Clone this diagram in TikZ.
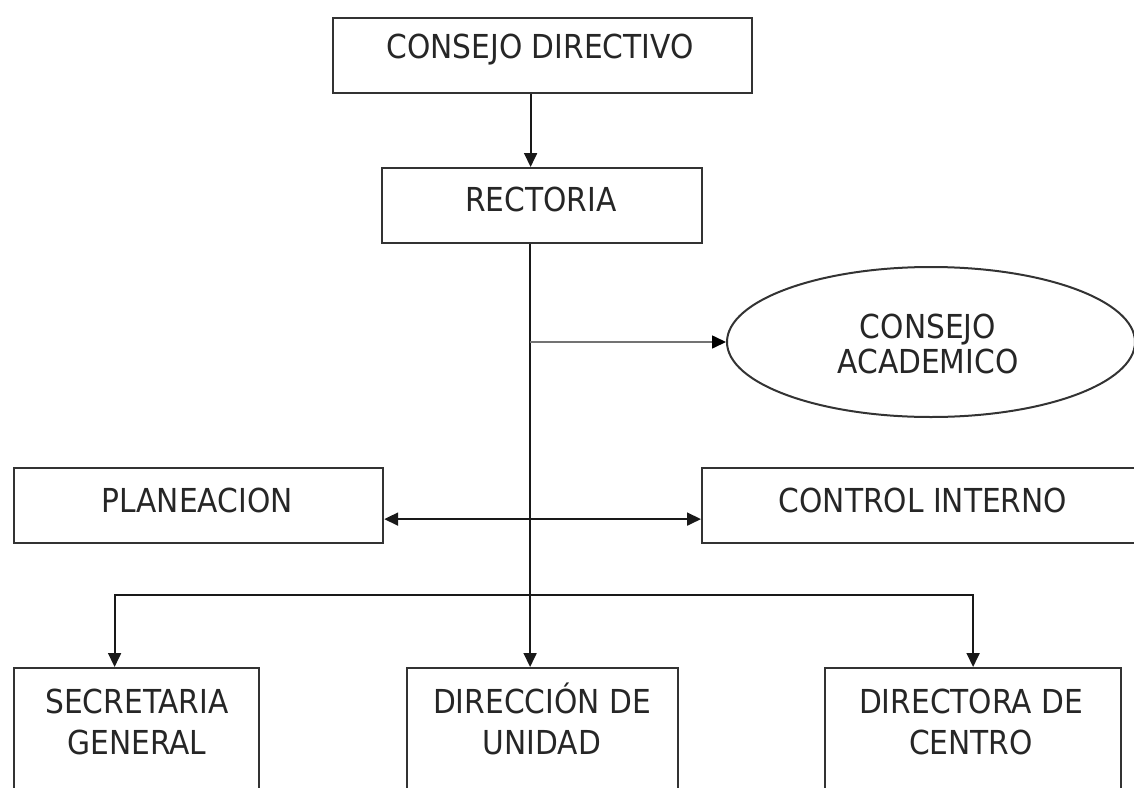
\documentclass[tikz,border=0pt]{standalone}
\usepackage{fontspec}
\setmainfont{DejaVu Sans Condensed}
\usetikzlibrary{arrows.meta,shapes.geometric,positioning}
\begin{document}
\begin{tikzpicture}[x=1pt,y=-1pt,
  box/.style={draw=black!80,line width=2.2pt,rectangle,inner sep=0pt,anchor=north west},
  lbl/.style={text=black!85,font=\fontsize{33}{41}\selectfont,align=center,inner sep=0pt},
  arr/.style={draw=black!90,line width=1.8pt,-{Triangle[length=14pt,width=13pt]}},
  arrtwo/.style={draw=black!90,line width=1.8pt,{Triangle[length=14pt,width=13pt]}-{Triangle[length=14pt,width=13pt]}},
  garr/.style={draw=black!55,line width=1.6pt,-{Triangle[length=14pt,width=13pt,color=black]}}]
\useasboundingbox (0,0) rectangle (1134,787);
\clip (0,0) rectangle (1134,787);
% boxes
\node[box,minimum width=419pt,minimum height=75pt] (cd) at (332,17) {};
\node[lbl] (cdT) at (540,50) {CONSEJO DIRECTIVO};
\node[box,minimum width=320pt,minimum height=75pt] (rect) at (381,167) {};
\node[lbl] (rectT) at (541,199) {RECTORIA};
\node[draw=black!80,line width=2pt,ellipse,minimum width=408pt,minimum height=150pt,inner sep=0pt] (acad) at (931,342) {};
\node[lbl,font=\fontsize{33}{35}\selectfont] (acadT) at (928,344) {CONSEJO\\ACADEMICO};
\node[box,minimum width=369pt,minimum height=75pt] (plan) at (13,467) {};
\node[lbl] (planT) at (197,500) {PLANEACION};
\node[box,minimum width=440pt,minimum height=75pt] (ctrl) at (701,467) {};
\node[lbl] (ctrlT) at (923,500) {CONTROL INTERNO};
\node[box,minimum width=245pt,minimum height=160pt] (sec) at (13,667) {};
\node[lbl] (secT) at (137,719) {\vphantom{Ó}SECRETARIA\\GENERAL};
\node[box,minimum width=271pt,minimum height=160pt] (dir) at (406,667) {};
\node[lbl] (dirT) at (542,719) {\vphantom{Ó}DIRECCIÓN DE\\UNIDAD};
\node[box,minimum width=296pt,minimum height=160pt] (dct) at (824,667) {};
\node[lbl] (dctT) at (971,719) {\vphantom{Ó}DIRECTORA DE\\CENTRO};
% connectors
\draw[arr] ([xshift=-12pt]cd.south) -- ([xshift=-12pt]cd.south |- rect.north);
\draw[arr] ([xshift=-12pt]rect.south) -- ([xshift=-12pt]rect.south |- dir.north);
\draw[garr] ([xshift=-12pt]rect.south |- acad.west) -- (acad.west);
\draw[arrtwo] ([yshift=-13.5pt]plan.east) -- ([yshift=-13.5pt]ctrl.west);
\coordinate (bus) at (529,595);
\draw[arr] (bus) -| ([xshift=-22pt]sec.north);
\draw[arr] (bus) -| ([xshift=0pt]dct.north);
\end{tikzpicture}
\end{document}
